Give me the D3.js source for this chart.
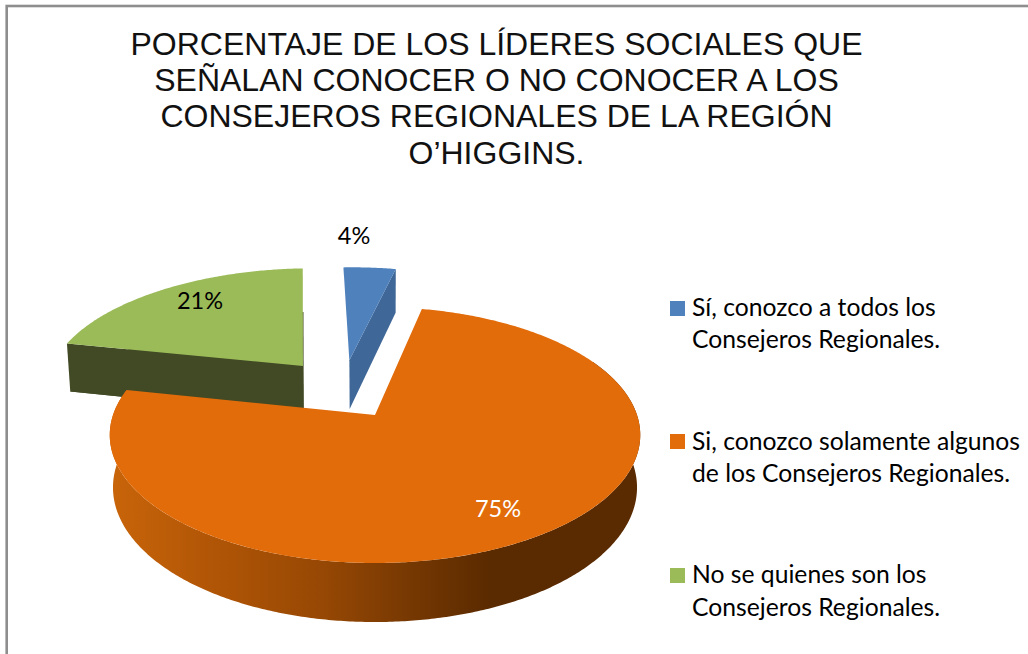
<!DOCTYPE html>
<html><head><meta charset="utf-8">
<script src="https://cdnjs.cloudflare.com/ajax/libs/d3/7.8.5/d3.min.js"></script>
<style>html,body{margin:0;padding:0;background:#fff}svg{display:block}</style>
</head><body><svg id="c" width="1028" height="654"></svg>
<script>
const titleLines = ["PORCENTAJE DE LOS LÍDERES SOCIALES QUE","SEÑALAN CONOCER O NO CONOCER A LOS","CONSEJEROS REGIONALES DE LA REGIÓN","O’HIGGINS."];
const categories = ["Sí, conozco a todos los|Consejeros Regionales.","Si, conozco solamente algunos|de los Consejeros Regionales.","No se quienes son los|Consejeros Regionales."];
const values = [4,75,21];
const labels = ["4%","75%","21%"];
const topColors = ["#4F81BD","#E26B0A","#9BBB59"];
const sideColors = ["#3F6797","#8a4206","#414A25"];

const svg = d3.select("#c");
const sansT = "'Liberation Sans',Arial,sans-serif", sansL = "Lato,'Open Sans',sans-serif";

// frame
svg.append("rect").attr("x",6.7).attr("y",6).attr("width",1100).attr("height",800)
  .attr("fill","#fff").attr("stroke","#8e8e8e").attr("stroke-width",2.6);

// title
svg.append("g").selectAll("text").data(titleLines).join("text")
  .attr("x",496.5).attr("y",(d,i)=>[55,91,127,164][i])
  .attr("text-anchor","middle").attr("font-family",sansT).attr("font-size",32).attr("fill","#111")
  .text(d=>d);

// 3D projection of the pie plane
const O=[375,415], R=262, H=124.9, k=0.156, kz=0.012, D=52.3;
const project=(u,v,z)=>{const w=1+k*v+kz*z;return [O[0]+R*u/w, O[1]+(-H*v+D*z)/w];};
const explode=[[-0.105,0.47],[0,0],[-0.293,0.418]];
const radius=[0.98,1,1.02];
const rot=-2.5*Math.PI/180;
const arcs=d3.pie().sort(null).startAngle(rot).endAngle(rot+2*Math.PI)(values);
const pt=(i,a,r,z)=>project(explode[i][0]+r*radius[i]*Math.sin(a),explode[i][1]+r*radius[i]*Math.cos(a),z);
const line=d3.line().curve(d3.curveLinear);
const rim=(i,a0,a1,z)=>{const n=Math.max(2,Math.ceil((a1-a0)/0.01));return d3.range(n+1).map(j=>pt(i,a0+(a1-a0)*j/n,1,z));};
const topFace=i=>{const s=arcs[i];return line([pt(i,0,0,0),...rim(i,s.startAngle,s.endAngle,0)])+"Z";};
const bottomFace=i=>{const s=arcs[i];return line([pt(i,0,0,1),...rim(i,s.startAngle,s.endAngle,1)])+"Z";};
const cut=(i,a)=>line([pt(i,0,0,0),pt(i,a,1,0),pt(i,a,1,1),pt(i,0,0,1)])+"Z";
const wall=(i,a0,a1)=>line([...rim(i,a0,a1,0),...rim(i,a0,a1,1).reverse()])+"Z";

// gradient for the orange outer wall
const defs=svg.append("defs");
const g=defs.append("linearGradient").attr("id","wallG").attr("gradientUnits","userSpaceOnUse")
  .attr("x1",109).attr("x2",640).attr("y1",0).attr("y2",0);
[[0,"#C9650A"],[0.2,"#B05506"],[0.4,"#974804"],[0.58,"#743702"],[0.72,"#5A2A00"],[1,"#5A2A00"]]
  .forEach(s=>g.append("stop").attr("offset",s[0]).attr("stop-color",s[1]));

const pie=svg.append("g");
// green
pie.append("path").attr("d",bottomFace(2)).attr("fill",sideColors[2]);
pie.append("path").attr("d",cut(2,arcs[2].startAngle)).attr("fill",sideColors[2]);
pie.append("path").attr("d",topFace(2)).attr("fill",topColors[2]);
// blue
pie.append("path").attr("d",cut(0,arcs[0].endAngle)).attr("fill",sideColors[0]);
pie.append("path").attr("d",topFace(0)).attr("fill",topColors[0]);
// orange
pie.append("path").attr("d",wall(1,Math.PI*0.35,arcs[1].endAngle)).attr("fill","url(#wallG)");
pie.append("path").attr("d",topFace(1)).attr("fill",topColors[1]);

// data labels
const labelPos=[[354,244],[498,517],[200,309]];
svg.append("g").selectAll("text").data(labels).join("text")
  .attr("x",(d,i)=>labelPos[i][0]).attr("y",(d,i)=>labelPos[i][1])
  .attr("text-anchor","middle").attr("font-family",sansL).attr("font-size",23.5)
  .attr("fill",(d,i)=>i===1?"#fff":"#000").text(d=>d);

// legend
const legY=[301,434,568], legBase=[[316,348],[450,482],[583,616]];
const leg=svg.append("g");
categories.forEach((c,i)=>{
  leg.append("rect").attr("x",670).attr("y",legY[i]).attr("width",15).attr("height",15).attr("fill",topColors[i]);
  c.split("|").forEach((t,j)=>leg.append("text").attr("x",692).attr("y",legBase[i][j])
    .attr("font-family",sansL).attr("font-size",24.7).attr("fill","#000").text(t));
});
</script></body></html>
